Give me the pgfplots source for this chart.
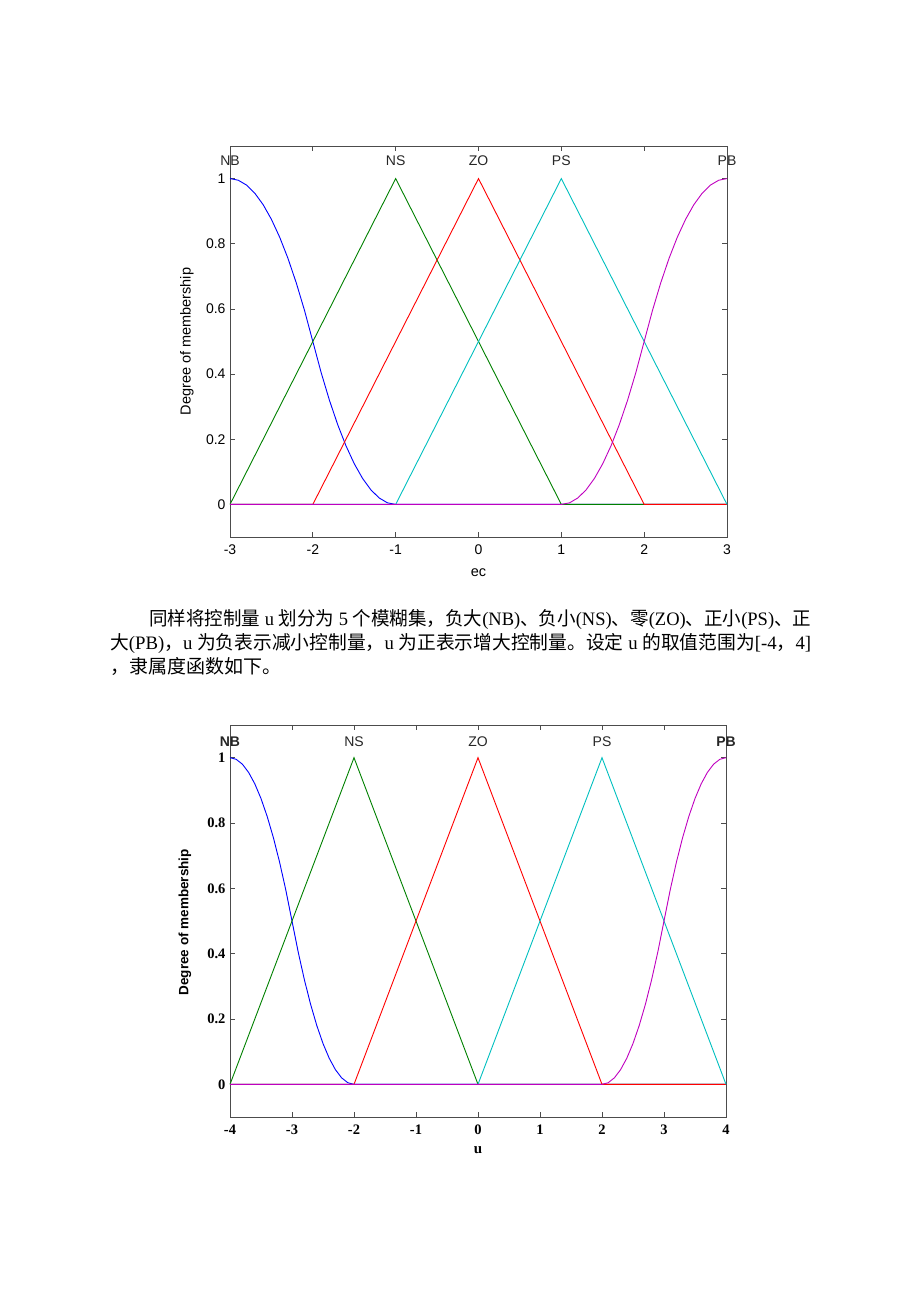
\documentclass[border=0pt]{standalone}
\usepackage{pgfplots}
\pgfplotsset{compat=1.18}
\usepackage{graphicx}
\usepackage{fontspec}
\setmainfont{Liberation Serif}
\setsansfont{Liberation Sans}
\newfontfamily\cjk{Noto Sans CJK SC}
\newfontfamily\arial{Liberation Sans}
\newcommand\C[1]{{\cjk #1}}
\definecolor{mblue}{rgb}{0,0,1}
\definecolor{mgreen}{rgb}{0,0.5,0}
\definecolor{mred}{rgb}{1,0,0}
\definecolor{mcyan}{rgb}{0,0.75,0.75}
\definecolor{mmag}{rgb}{0.75,0,0.75}
\definecolor{axgray}{rgb}{0.3,0.3,0.3}
\pgfplotsset{
  mfaxis/.style={
    scale only axis, clip=false,
    ymin=-0.1, ymax=1.1,
    ytick={0,0.2,0.4,0.6,0.8,1},
    yticklabels={0,0.2,0.4,0.6,0.8,1},
    tick align=inside, major tick length=5pt,
    axis line style={axgray, line width=1pt},
    tick style={axgray, line width=0.8pt},
    xticklabel style={yshift=-4pt},
    yticklabel style={xshift=-1pt},
    every axis plot/.append style={line width=0.9pt, mark=none},
  }
}
\begin{document}
\begin{tikzpicture}
\path[use as bounding box] (0pt,0pt) rectangle (920pt,-1302pt);

% ---------- chart 1 ----------
\begin{axis}[mfaxis,
  at={(230pt,-537pt)}, anchor=south west,
  width=497pt, height=391pt,
  xmin=-3, xmax=3,
  xtick={-3,-2,-1,0,1,2,3},
  xticklabels={-3,-2,-1,0,1,2,3},
  ticklabel style={font=\arial\fontsize{14}{14}\selectfont},
  xlabel={ec}, ylabel={Degree of membership},
  label style={font=\arial\fontsize{14.5}{15}\selectfont},
  xlabel style={at={(axis description cs:0.5,-0.09)}, anchor=center},
  ylabel style={at={(axis description cs:-0.087,0.5)}, anchor=center},
]
\addplot[mblue] coordinates {(-3,1) (-2.9,0.995) (-2.8,0.98) (-2.7,0.955) (-2.6,0.92) (-2.5,0.875) (-2.4,0.82) (-2.3,0.755) (-2.2,0.68) (-2.1,0.595) (-2,0.5) (-1.9,0.405) (-1.8,0.32) (-1.7,0.245) (-1.6,0.18) (-1.5,0.125) (-1.4,0.08) (-1.3,0.045) (-1.2,0.02) (-1.1,0.005) (-1,0) (3,0)};
\addplot[mgreen] coordinates {(-3,0) (-1,1) (1,0) (3,0)};
\addplot[mred] coordinates {(-3,0) (-2,0) (0,1) (2,0) (3,0)};
\addplot[mcyan] coordinates {(-3,0) (-1,0) (1,1) (3,0)};
\addplot[mmag] coordinates {(-3,0) (1,0) (1.1,0.005) (1.2,0.02) (1.3,0.045) (1.4,0.08) (1.5,0.125) (1.6,0.18) (1.7,0.245) (1.8,0.32) (1.9,0.405) (2,0.5) (2.1,0.595) (2.2,0.68) (2.3,0.755) (2.4,0.82) (2.5,0.875) (2.6,0.92) (2.7,0.955) (2.8,0.98) (2.9,0.995) (3,1)};
\begin{scope}[every node/.style={font=\arial\fontsize{14}{14}\selectfont, text=black!85}]
\node at (axis cs:-3,1.055) {NB};
\node at (axis cs:-1,1.055) {NS};
\node at (axis cs:0,1.055) {ZO};
\node at (axis cs:1,1.055) {PS};
\node at (axis cs:3,1.055) {PB};
\end{scope}
\end{axis}

% ---------- paragraph ----------
\begin{scope}[every node/.style={inner sep=0pt, anchor=base west, font=\fontsize{19}{22}\selectfont}]
\node at (149pt,-625pt) {\resizebox{662pt}{\height}{\C{同样将控制量} u \C{划分为} 5 \C{个模糊集，负大}(NB)\C{、负小}(NS)\C{、零}(ZO)\C{、正小}(PS)\C{、正}}};
\node at (110pt,-649pt) {\resizebox{701pt}{\height}{\C{大}(PB)\C{，}u \C{为负表示减小控制量，}u \C{为正表示增大控制量。设定} u \C{的取值范围为}[-4\C{，}4]}};
\node at (110pt,-673pt) {\C{，隶属度函数如下。}};
\end{scope}

% ---------- chart 2 ----------
\begin{axis}[mfaxis,
  at={(230pt,-1117pt)}, anchor=south west,
  width=496pt, height=392pt,
  xmin=-4, xmax=4,
  xtick={-4,-3,-2,-1,0,1,2,3,4},
  xticklabels={-4,-3,-2,-1,0,1,2,3,4},
  ticklabel style={font=\bfseries\fontsize{14.5}{14}\selectfont},
  xlabel={u}, ylabel={Degree of membership},
  xlabel style={font=\bfseries\fontsize{15}{15}\selectfont, at={(axis description cs:0.5,-0.084)}, anchor=center},
  ylabel style={font=\arial\bfseries\fontsize{13.5}{14}\selectfont, at={(axis description cs:-0.091,0.497)}, anchor=center},
]
\addplot[mblue] coordinates {(-4,1) (-3.9,0.995) (-3.8,0.98) (-3.7,0.955) (-3.6,0.92) (-3.5,0.875) (-3.4,0.82) (-3.3,0.755) (-3.2,0.68) (-3.1,0.595) (-3,0.5) (-2.9,0.405) (-2.8,0.32) (-2.7,0.245) (-2.6,0.18) (-2.5,0.125) (-2.4,0.08) (-2.3,0.045) (-2.2,0.02) (-2.1,0.005) (-2,0) (4,0)};
\addplot[mgreen] coordinates {(-4,0) (-2,1) (0,0) (4,0)};
\addplot[mred] coordinates {(-4,0) (-2,0) (0,1) (2,0) (4,0)};
\addplot[mcyan] coordinates {(-4,0) (0,0) (2,1) (4,0)};
\addplot[mmag] coordinates {(-4,0) (2,0) (2.1,0.005) (2.2,0.02) (2.3,0.045) (2.4,0.08) (2.5,0.125) (2.6,0.18) (2.7,0.245) (2.8,0.32) (2.9,0.405) (3,0.5) (3.1,0.595) (3.2,0.68) (3.3,0.755) (3.4,0.82) (3.5,0.875) (3.6,0.92) (3.7,0.955) (3.8,0.98) (3.9,0.995) (4,1)};
\begin{scope}[every node/.style={font=\arial\fontsize{14}{14}\selectfont, text=black!85}]
\node[font=\arial\bfseries\fontsize{14}{14}\selectfont] at (axis cs:-4,1.05) {NB};
\node at (axis cs:-2,1.05) {NS};
\node at (axis cs:0,1.05) {ZO};
\node at (axis cs:2,1.05) {PS};
\node[font=\arial\bfseries\fontsize{14}{14}\selectfont] at (axis cs:4,1.05) {PB};
\end{scope}
\end{axis}
\end{tikzpicture}
\end{document}
